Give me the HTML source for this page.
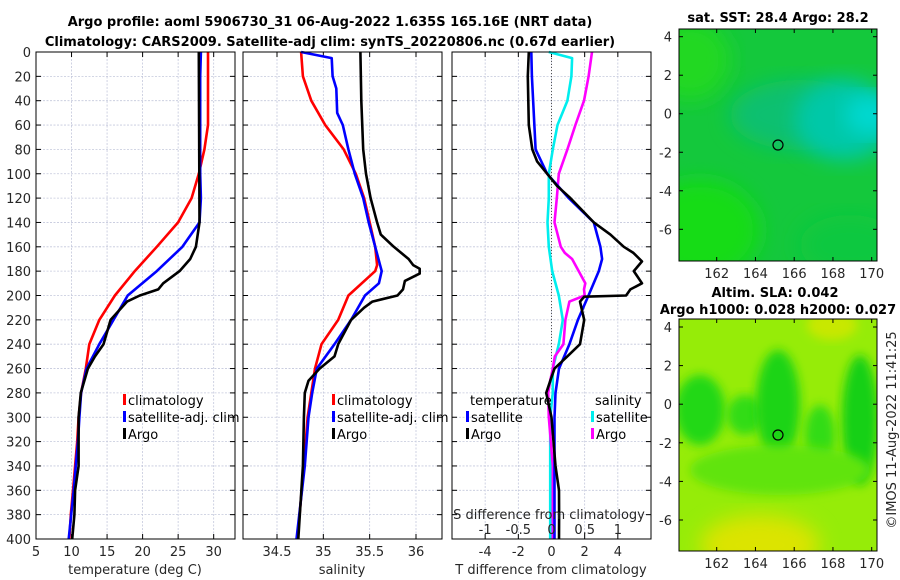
<!DOCTYPE html>
<html><head><meta charset="utf-8">
<style>
html,body{margin:0;padding:0;background:#fff;}
svg{display:block;font-family:"DejaVu Sans","Liberation Sans",sans-serif;}
.tk{font-size:13px;fill:#262626;}
.tt{font-size:13px;font-weight:bold;fill:#000;}
.lg{font-size:13px;fill:#000;}
</style></head>
<body>
<svg id="fig" width="900" height="580" viewBox="0 0 900 580" xmlns="http://www.w3.org/2000/svg">
<defs>
<filter id="blur1" x="-20%" y="-20%" width="140%" height="140%"><feGaussianBlur stdDeviation="10"/></filter>
<filter id="blur2" x="-20%" y="-20%" width="140%" height="140%"><feGaussianBlur stdDeviation="5"/></filter>
<clipPath id="cm1"><rect x="679" y="29" width="198" height="232"/></clipPath>
<clipPath id="cm2"><rect x="679" y="319" width="198" height="232"/></clipPath>
</defs>
<text class="tt" x="330" y="26" text-anchor="middle">Argo profile: aoml 5906730_31 06-Aug-2022 1.635S 165.16E (NRT data)</text>
<text class="tt" x="330" y="46" text-anchor="middle">Climatology: CARS2009. Satellite-adj clim: synTS_20220806.nc (0.67d earlier)</text>
<text class="tt" x="778" y="22" text-anchor="middle">sat. SST: 28.4 Argo: 28.2</text>
<text class="tt" x="775" y="297" text-anchor="middle">Altim. SLA: 0.042</text>
<text class="tt" x="778" y="314" text-anchor="middle">Argo h1000: 0.028 h2000: 0.027</text>
<text class="tk" transform="translate(896,430) rotate(-90)" text-anchor="middle">©IMOS 11-Aug-2022 11:41:25</text>

<!-- maps -->
<g clip-path="url(#cm1)">
<rect x="679" y="29" width="198" height="232" fill="#14c83c"/>
<ellipse cx="700" cy="230" rx="60" ry="50" fill="#18dc18" filter="url(#blur1)"/>
<ellipse cx="690" cy="60" rx="40" ry="40" fill="#22d822" filter="url(#blur1)"/>
<ellipse cx="800" cy="115" rx="70" ry="35" fill="#0cc070" filter="url(#blur1)"/>
<ellipse cx="845" cy="120" rx="50" ry="40" fill="#00c8a8" filter="url(#blur1)"/>
<ellipse cx="870" cy="115" rx="25" ry="20" fill="#00d8d0" filter="url(#blur1)"/>
<ellipse cx="850" cy="245" rx="50" ry="30" fill="#10c840" filter="url(#blur1)"/>
<circle cx="778" cy="145" r="5" fill="none" stroke="#000" stroke-width="1.2"/>
</g>
<g clip-path="url(#cm2)">
<rect x="679" y="319" width="198" height="232" fill="#96ec08"/>
<ellipse cx="700" cy="410" rx="25" ry="35" fill="#20d814" filter="url(#blur2)"/>
<ellipse cx="745" cy="415" rx="18" ry="20" fill="#30dc14" filter="url(#blur2)"/>
<ellipse cx="778" cy="405" rx="22" ry="55" fill="#1cd414" filter="url(#blur2)"/>
<ellipse cx="820" cy="435" rx="15" ry="30" fill="#30dc14" filter="url(#blur2)"/>
<ellipse cx="860" cy="420" rx="18" ry="65" fill="#14d014" filter="url(#blur2)"/>
<ellipse cx="780" cy="470" rx="90" ry="25" fill="#60e40c" filter="url(#blur2)"/>
<ellipse cx="760" cy="545" rx="60" ry="30" fill="#dce400" filter="url(#blur1)"/>
<ellipse cx="832" cy="325" rx="25" ry="15" fill="#c8e800" filter="url(#blur2)"/>
<circle cx="778" cy="435" r="5" fill="none" stroke="#000" stroke-width="1.2"/>
</g>
<g id="axes"></g>
</svg>
<script>
// depth levels and series values
const depthTclim = [0,40,60,80,100,120,140,160,180,200,220,240,260,280,300,320,340,360,380,400];
const tempClim   = [29.2,29.2,29.2,28.7,27.9,26.9,25.0,22.0,18.9,16.1,13.9,12.5,12.0,11.35,11.0,10.8,10.5,10.2,9.9,9.7];
const depthTsat  = [0,20,100,120,140,160,180,200,220,240,260,280,300,320,360,400];
const tempSat    = [28.2,28.1,28.1,28.2,28.0,25.6,22.0,17.9,15.9,13.9,12.1,11.35,11.1,10.9,10.3,9.6];
const depthTargo = [0,140,160,170,180,190,195,200,205,220,240,250,260,280,300,340,360,380,400];
const tempArgo   = [27.9,28.0,27.5,26.7,25.2,22.9,22.2,19.6,17.8,15.5,14.5,13.3,12.3,11.3,11.0,11.0,10.5,10.4,10.1];

const depthSclim = [0,20,40,60,80,100,120,140,160,175,180,200,220,240,260,280,300,340,400];
const salClim    = [34.76,34.78,34.87,35.02,35.22,35.35,35.44,35.50,35.56,35.58,35.56,35.27,35.16,34.98,34.91,34.87,34.83,34.79,34.72];
const depthSsat  = [0,5,20,30,50,60,80,100,120,140,160,180,190,200,220,240,260,280,300,340,400];
const salSat     = [34.76,35.09,35.10,35.14,35.15,35.21,35.27,35.34,35.43,35.49,35.56,35.63,35.60,35.45,35.30,35.12,34.93,34.88,34.84,34.80,34.71];
const depthSargo = [0,40,80,100,120,140,150,160,170,175,178,182,188,195,200,205,210,220,240,250,260,270,280,300,340,400];
const salArgo    = [35.40,35.41,35.43,35.46,35.51,35.58,35.62,35.76,35.92,35.97,36.04,36.04,35.88,35.86,35.80,35.53,35.44,35.30,35.16,35.12,34.96,34.84,34.80,34.79,34.78,34.73];

const depthDTargo = [0,20,60,80,90,100,110,120,140,150,160,165,172,180,190,195,200,201,205,220,240,250,260,270,280,300,340,360,380,400];
const dTargo      = [-1.37,-1.43,-1.37,-1.16,-0.86,-0.26,0.34,1.14,2.55,3.55,4.36,4.94,5.46,4.96,5.46,4.76,4.5,1.97,1.72,1.97,1.72,0.95,0.18,-0.07,-0.32,0.0,0.24,0.45,0.46,0.45];
const depthDTsat  = [0,20,80,100,120,140,150,160,170,180,200,220,240,260,280,300,400];
const dTsat       = [-1.22,-1.18,-0.96,-0.26,1.04,2.55,2.75,2.95,3.05,2.85,2.23,1.59,1.08,0.45,0.24,0.18,0.18];
const depthDSsat  = [0,5,20,40,60,80,100,120,140,160,180,200,220,240,260,280,300,400];
const dSsat       = [-0.04,0.31,0.30,0.24,0.09,0.02,-0.04,-0.04,-0.06,-0.04,0.01,0.11,0.17,0.11,0.02,0.02,-0.02,-0.02];
const depthDSargo = [0,20,40,60,80,100,120,140,160,165,170,180,190,195,200,205,220,240,250,260,270,280,300,340,400];
const dSargo      = [0.61,0.56,0.49,0.36,0.24,0.11,0.08,0.045,0.14,0.2,0.31,0.41,0.51,0.49,0.50,0.27,0.21,0.18,0.05,0.02,-0.02,-0.05,-0.04,0.02,0.02];

const depthTicks = [0,20,40,60,80,100,120,140,160,180,200,220,240,260,280,300,320,340,360,380,400];
const tempTicks = [5,10,15,20,25,30];
const salTicks = [34.5,35,35.5,36];
const dTTicks = [-4,-2,0,2,4];
const dSTicks = [-1,-0.5,0,0.5,1];
const dSTickLabels = ["-1","-0.5","0","0.5","1"];
const lonTicks = [162,164,166,168,170];
const latTicks = [4,2,0,-2,-4,-6];

const NS = "http://www.w3.org/2000/svg";
const root = document.getElementById("axes");
function mk(tag, attrs, parent){ const e=document.createElementNS(NS,tag); for(const k in attrs) e.setAttribute(k,attrs[k]); (parent||root).appendChild(e); return e; }

const Y0=52, Y1=539;
const yD = d => Y0 + (d/400)*(Y1-Y0);
function linX(d0,d1,p0,p1){ return v => p0 + (v-d0)/(d1-d0)*(p1-p0); }
const xT = linX(5,33,36,235);
const xS = linX(34.5,36,277,416);
const xDT = linX(-6,6,452,651);
const xDS = v => xDT(v*4);

function panel(name, left, right, ticks, labels, xf, showDepth){
  const g = mk("g",{});
  
  
  mk("rect",{x:left,y:Y0,width:right-left,height:Y1-Y0,fill:"#fff"},g);
  depthTicks.forEach(d=>{
    const y=yD(d);
    const l=mk("line",{x1:left,x2:right,y1:y,y2:y,stroke:"#c4c8dc","stroke-width":0.8,"stroke-dasharray":"2,1.5"},g);
    
    
    mk("line",{x1:left,x2:left+5,y1:y,y2:y,stroke:"#000"},g);
    mk("line",{x1:right-5,x2:right,y1:y,y2:y,stroke:"#000"},g);
    if(showDepth){
      const t=mk("text",{x:left-5,y:y+5,"text-anchor":"end","class":"tk"},g);
      t.textContent=d;
      
      
    }
  });
  ticks.forEach((v,i)=>{
    const x=xf(v);
    const l=mk("line",{x1:x,x2:x,y1:Y0,y2:Y1,stroke:"#c4c8dc","stroke-width":0.8,"stroke-dasharray":"2,1.5"},g);
    
    
    mk("line",{x1:x,x2:x,y1:Y1,y2:Y1-5,stroke:"#000"},g);
    mk("line",{x1:x,x2:x,y1:Y0,y2:Y0+5,stroke:"#000"},g);
    const t=mk("text",{x:x,y:556,"text-anchor":"middle","class":"tk"},g);
    t.textContent=labels?labels[i]:v;
    
    
  });
  return g;
}
function frame(g,left,right){
  mk("rect",{x:left,y:Y0,width:right-left,height:Y1-Y0,fill:"none",stroke:"#000","stroke-width":1},g);
}
function series(g, name, depths, vals, xf, color, w){
  const pts = depths.map((d,i)=>xf(vals[i]).toFixed(1)+","+yD(d).toFixed(1)).join(" ");
  const p = mk("polyline",{points:pts,fill:"none",stroke:color,"stroke-width":w||2.6,"stroke-linejoin":"round"},g);
  
  
}
function legendEntry(g, name, x, y, color, label){
  const e = mk("g",{},g);
  
  
  mk("rect",{x:x,y:y-11,width:3,height:11,fill:color},e);
  const t=mk("text",{x:x+5,y:y,"class":"lg"},e); t.textContent=label;
}
function xtitle(g,name,x,label){
  const t=mk("text",{x:x,y:574,"text-anchor":"middle","class":"tk"},g); t.textContent=label;
  
  
}

// Panel 1
const g1 = panel("temperature-panel",36,235,tempTicks,null,xT,true);
series(g1,"temp-climatology-line",depthTclim,tempClim,xT,"#ff0000");
series(g1,"temp-satellite-line",depthTsat,tempSat,xT,"#0000ff");
series(g1,"temp-argo-line",depthTargo,tempArgo,xT,"#000000");
frame(g1,36,235);
legendEntry(g1,"legend-climatology",123,405,"#ff0000","climatology");
legendEntry(g1,"legend-satellite-adj",123,422,"#0000ff","satellite-adj. clim");
legendEntry(g1,"legend-argo",123,439,"#000000","Argo");
xtitle(g1,"temperature-x-title",135,"temperature (deg C)");

// Panel 2
const g2 = panel("salinity-panel",243,442,salTicks,null,xS,false);
series(g2,"sal-climatology-line",depthSclim,salClim,xS,"#ff0000");
series(g2,"sal-satellite-line",depthSsat,salSat,xS,"#0000ff");
series(g2,"sal-argo-line",depthSargo,salArgo,xS,"#000000");
frame(g2,243,442);
legendEntry(g2,"legend-climatology-2",332,405,"#ff0000","climatology");
legendEntry(g2,"legend-satellite-adj-2",332,422,"#0000ff","satellite-adj. clim");
legendEntry(g2,"legend-argo-2",332,439,"#000000","Argo");
xtitle(g2,"salinity-x-title",342,"salinity");

// Panel 3
const g3 = panel("difference-panel",452,651,dTTicks,null,xDT,false);
const z = mk("line",{x1:xDT(0),x2:xDT(0),y1:Y0,y2:yD(255),stroke:"#555","stroke-width":1,"stroke-dasharray":"1,2"},g3);


series(g3,"sdiff-satellite-line",depthDSsat,dSsat,xDS,"#00eeee");
series(g3,"sdiff-argo-line",depthDSargo,dSargo,xDS,"#ff00ff");
series(g3,"tdiff-satellite-line",depthDTsat,dTsat,xDT,"#0000ff");
series(g3,"tdiff-argo-line",depthDTargo,dTargo,xDT,"#000000");
frame(g3,452,651);
const lt=mk("text",{x:470,y:405,"class":"lg"},g3); lt.textContent="temperature";


const ls=mk("text",{x:595,y:405,"class":"lg"},g3); ls.textContent="salinity";


legendEntry(g3,"legend-t-satellite",466,422,"#0000ff","satellite");
legendEntry(g3,"legend-t-argo",466,439,"#000000","Argo");
legendEntry(g3,"legend-s-satellite",591,422,"#00eeee","satellite");
legendEntry(g3,"legend-s-argo",591,439,"#ff00ff","Argo");
const st=mk("text",{x:549,y:519,"text-anchor":"middle","class":"tk"},g3); st.textContent="S difference from climatology";


dSTicks.forEach((v,i)=>{
  const t=mk("text",{x:xDS(v),y:534,"text-anchor":"middle","class":"tk"},g3); t.textContent=dSTickLabels[i];
  
  
});
xtitle(g3,"t-difference-x-title",551,"T difference from climatology");

// Map axes
const xLon = linX(162,170,716.7,871.7);
function mapAxes(name, top, bottom, lat4y, latm6y){
  const g=mk("g",{});
  
  
  const yLat = linX(4,-6,lat4y,latm6y);
  mk("rect",{x:679,y:top,width:198,height:bottom-top,fill:"none",stroke:"#000","stroke-width":1},g);
  lonTicks.forEach(v=>{
    const x=xLon(v);
    mk("line",{x1:x,x2:x,y1:bottom,y2:bottom-4,stroke:"#000"},g);
    mk("line",{x1:x,x2:x,y1:top,y2:top+4,stroke:"#000"},g);
    const t=mk("text",{x:x,y:bottom+17,"text-anchor":"middle","class":"tk"},g); t.textContent=v;
    
    
  });
  latTicks.forEach(v=>{
    const y=yLat(v);
    mk("line",{x1:679,x2:683,y1:y,y2:y,stroke:"#000"},g);
    mk("line",{x1:873,x2:877,y1:y,y2:y,stroke:"#000"},g);
    const t=mk("text",{x:672,y:y+5,"text-anchor":"end","class":"tk"},g); t.textContent=v;
    
    
  });
}
mapAxes("sst-map-axes",29,261,36.7,229.3);
mapAxes("sla-map-axes",319,551,327,520);
</script>
</body></html>
